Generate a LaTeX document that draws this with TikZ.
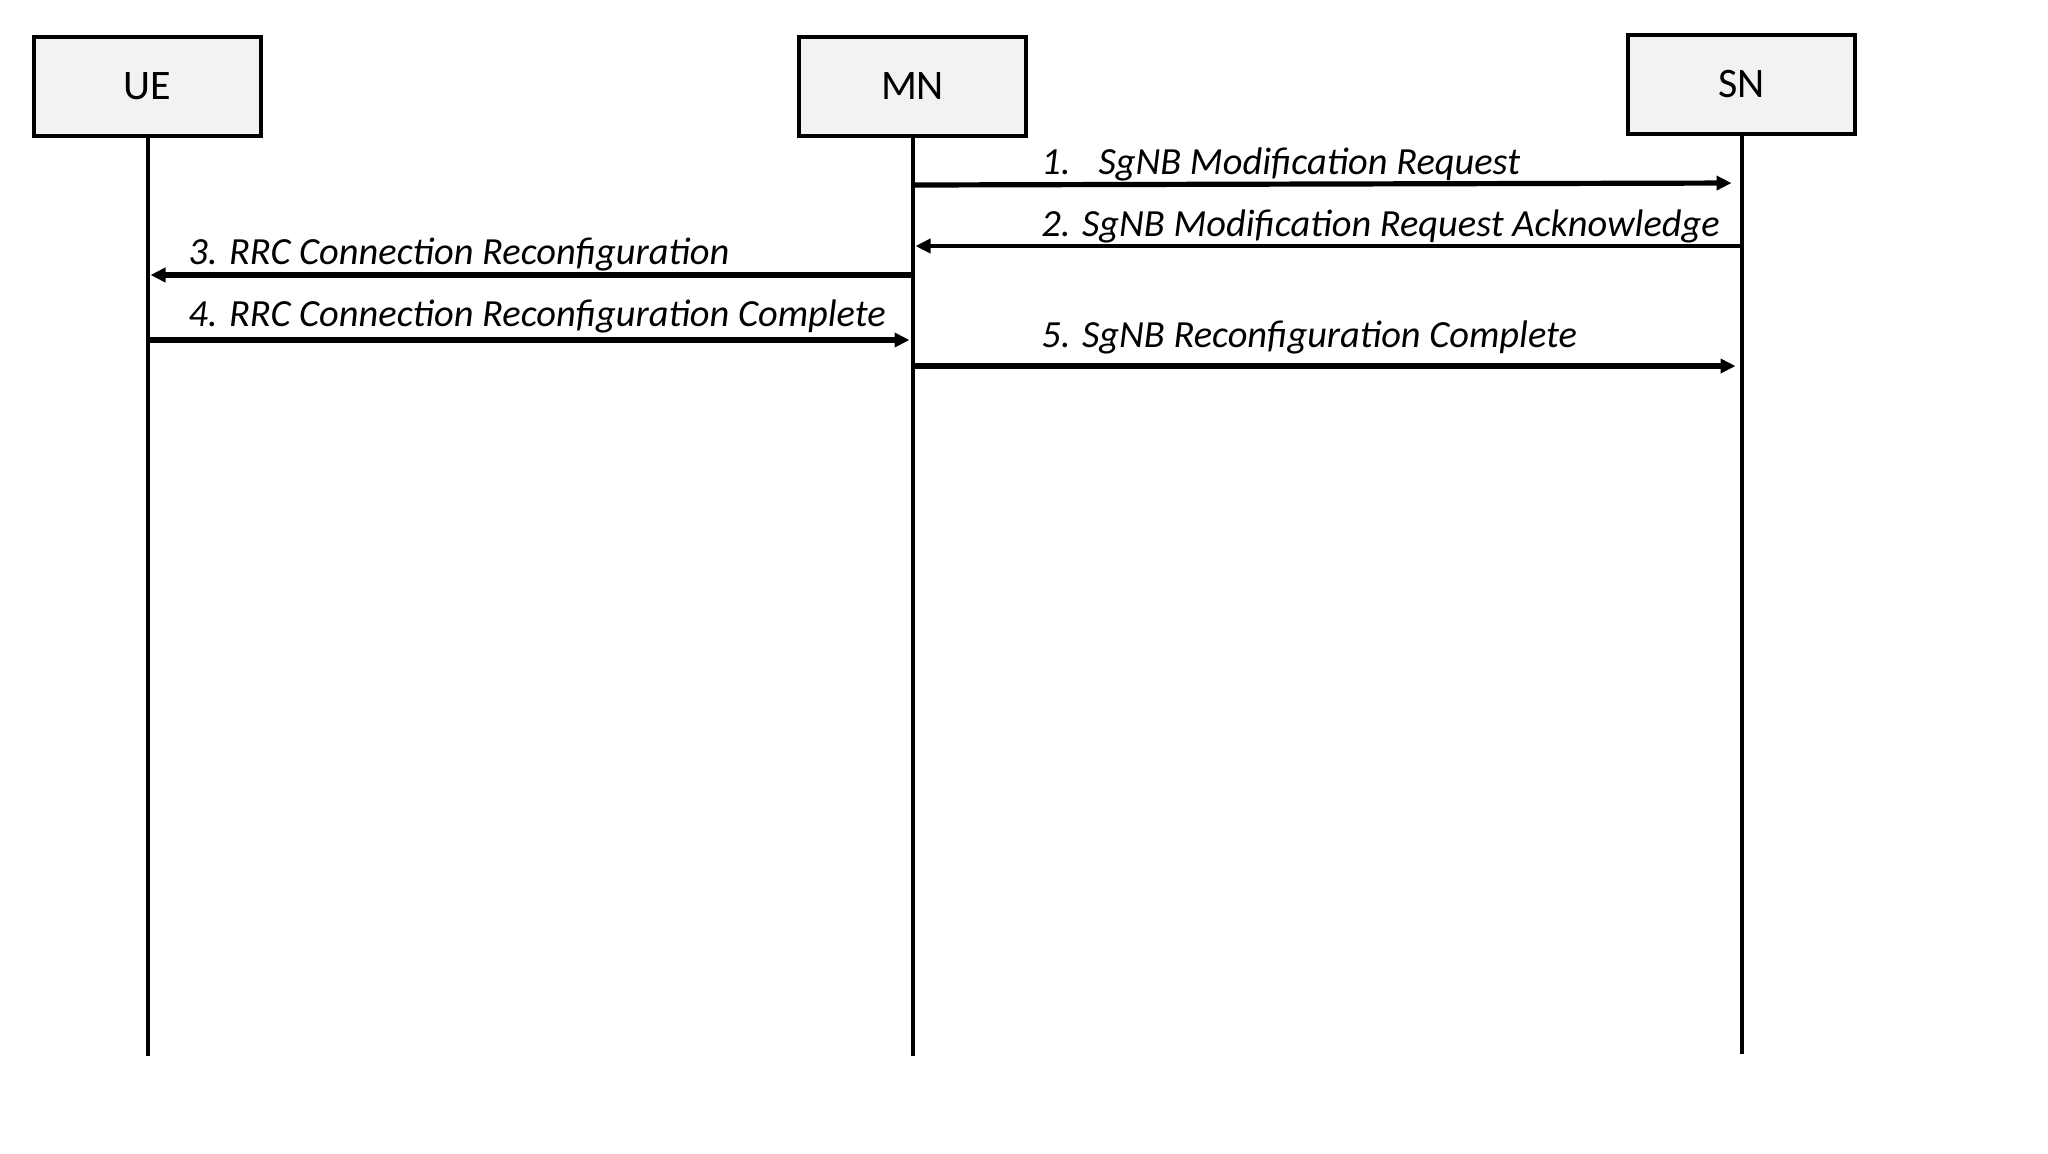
\documentclass[tikz,border=0pt]{standalone}
\usepackage{fontspec}
\setmainfont{Carlito}
\usetikzlibrary{arrows.meta}
\definecolor{boxfill}{HTML}{F2F2F2}
\tikzset{
  entity/.style={draw=black, line width=2pt, fill=boxfill, minimum width=113.5pt, minimum height=49.5pt, inner sep=0pt, font=\fontsize{21}{25}\selectfont},
  lifeline/.style={line width=2pt},
  msg/.style={line width=2.6pt, -{Triangle[length=7.5pt,width=7pt]}},
  msglabel/.style={anchor=base west, inner sep=0pt, font=\fontsize{19.2}{23}\selectfont\itshape}
}
\begin{document}
\begin{tikzpicture}[x=0.5pt,y=-0.5pt]
\useasboundingbox (0,0) rectangle (2048,1153);
\node[entity] (UE) at (147.5,86.5) {UE};
\node[entity] (MN) at (912.5,86.5) {MN};
\node[entity] (SN) at (1741.5,84.5) {SN};
\coordinate (UEend) at (147.5,1056);
\coordinate (MNend) at (912.5,1056);
\coordinate (SNend) at (1741.5,1054);
\draw[lifeline] (UE.south) -- (UEend);
\draw[lifeline] (MN.south) -- (MNend);
\draw[lifeline] (SN.south) -- (SNend);
% message anchors on lifelines
\coordinate (m1a) at (912.5,185);
\coordinate (m1b) at (1741.5,183);
\coordinate (m2a) at (1741.5,246);
\coordinate (m2b) at (912.5,246);
\coordinate (m3a) at (912.5,275);
\coordinate (m3b) at (147.5,275);
\coordinate (m4a) at (147.5,340);
\coordinate (m4b) at (912.5,340);
\coordinate (m5a) at (912.5,366);
\coordinate (m5b) at (1741.5,366);
\draw[msg, shorten >=5pt] (m1a) -- (m1b);
\draw[msg, line width=2.1pt, shorten >=1.5pt] (m2a) -- (m2b);
\draw[msg, shorten >=1.5pt] (m3a) -- (m3b);
\draw[msg, shorten >=1.5pt] (m4a) -- (m4b);
\draw[msg, shorten >=3pt] (m5a) -- (m5b);
\node[msglabel] (l1) at (1041,174) {1.\hspace{14pt}SgNB Modification Request};
\node[msglabel] (l2) at (1041,236) {2. SgNB Modification Request Acknowledge};
\node[msglabel] (l3) at (188,264) {3. RRC Connection Reconfiguration};
\node[msglabel] (l4) at (188,326) {4. RRC Connection Reconfiguration Complete};
\node[msglabel] (l5) at (1041,347) {5. SgNB Reconfiguration Complete};
\end{tikzpicture}
\end{document}
